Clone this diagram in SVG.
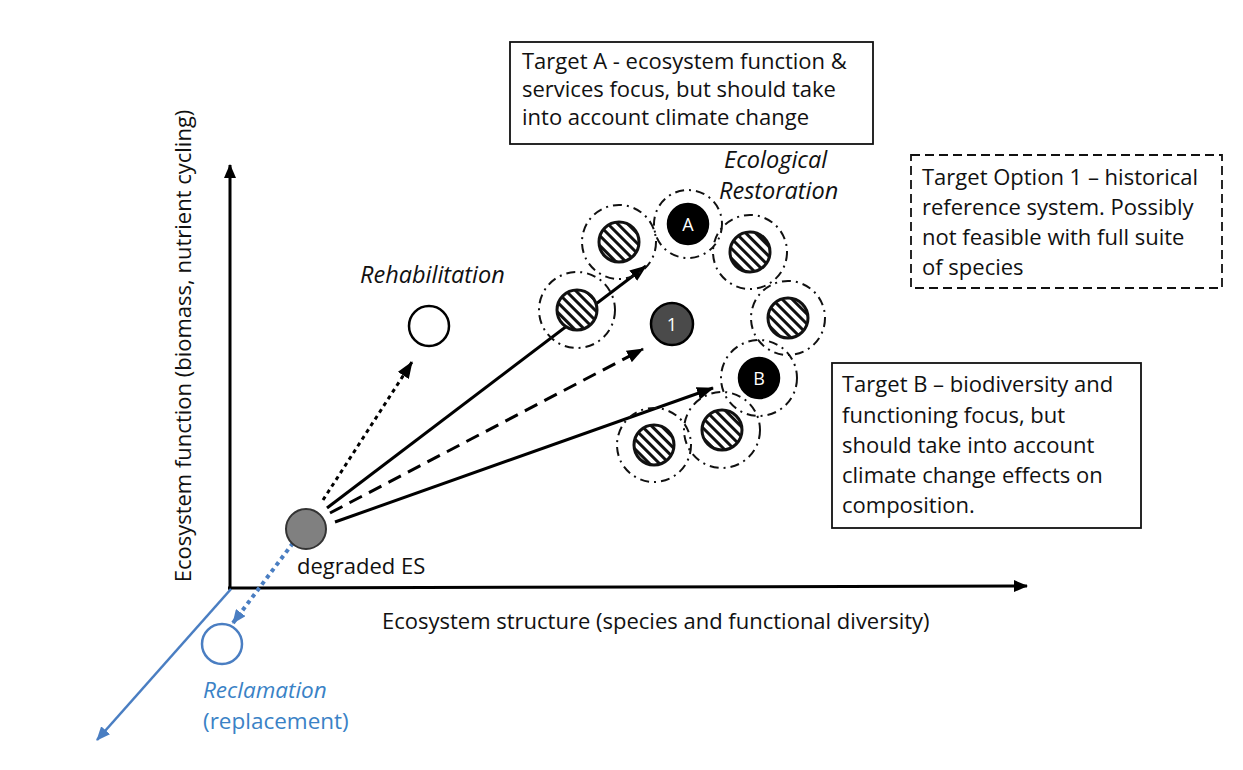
<svg xmlns="http://www.w3.org/2000/svg" width="1243" height="770" viewBox="0 0 1243 770">
<style>
  text { font-family: "Open Sans", "Noto Sans", sans-serif; font-size: 22px; fill: #111; }
  .it { font-style: italic; font-size: 23.5px; }
  .blue { fill: #3a82c6; font-size: 22.5px; }
  .box { fill: #fff; stroke: #111; stroke-width: 1.8; }
  .dbox { fill: #fff; stroke: #111; stroke-width: 1.8; stroke-dasharray: 9 5; }
  .ring { fill: none; stroke: #111; stroke-width: 2; stroke-dasharray: 9 5 2 5; }
  .hatch { fill: url(#stripes); stroke: #111; stroke-width: 3; }
  .solid { fill: #000; stroke: #000; stroke-width: 2.5; }
  .lbl { fill: #fff; font-size: 18px; text-anchor: middle; }
  .ln { fill: none; stroke: #000; stroke-width: 3; marker-end: url(#ah); }
  .axis { fill: none; stroke: #000; stroke-width: 3; marker-end: url(#ax); }
</style>
<defs>
  <pattern id="stripes" width="7" height="7" patternUnits="userSpaceOnUse" patternTransform="rotate(45)">
    <rect width="7" height="7" fill="#fff"/>
    <line x1="0" y1="1.5" x2="7" y2="1.5" stroke="#111" stroke-width="3"/>
  </pattern>
  <marker id="ah" markerUnits="userSpaceOnUse" markerWidth="17" markerHeight="13" viewBox="0 0 17 13" refX="16" refY="6.5" orient="auto">
    <path d="M0,0 L17,6.5 L0,13 z" fill="#000"/>
  </marker>
  <marker id="ax" markerUnits="userSpaceOnUse" markerWidth="14" markerHeight="12" viewBox="0 0 14 12" refX="13" refY="6" orient="auto">
    <path d="M0,0 L14,6 L0,12 z" fill="#000"/>
  </marker>
  <marker id="bh" markerUnits="userSpaceOnUse" markerWidth="14" markerHeight="12" viewBox="0 0 14 12" refX="13" refY="6" orient="auto">
    <path d="M0,0 L14,6 L0,12 z" fill="#4a7ec2"/>
  </marker>
</defs>

<g id="connectors">
  <path id="y-axis" class="axis" d="M230,590 L230,165"/>
  <path id="x-axis" class="axis" d="M228,588 L1027,586"/>
  <path id="reclaim-axis" d="M231,589 L97,740" fill="none" stroke="#4a7ec2" stroke-width="2.6" marker-end="url(#bh)"/>
  <path id="to-rehab" class="ln" d="M323,500 L412,362" stroke-dasharray="4 4" stroke-width="4"/>
  <path id="to-A" class="ln" d="M327,508 L646,266"/>
  <path id="to-1" class="ln" d="M330,513 L643,349" stroke-dasharray="14 8"/>
  <path id="to-B" class="ln" d="M335,522 L713,388"/>
  <path id="to-reclaim" d="M293,543 L233,623" fill="none" stroke="#4a7ec2" stroke-width="4" stroke-dasharray="4 4" marker-end="url(#bh)"/>
</g>

<g id="axis-labels">
  <text id="y-label" transform="translate(191,346) rotate(-90)" text-anchor="middle">Ecosystem function (biomass, nutrient cycling)</text>
  <text id="x-label" x="382" y="629">Ecosystem structure (species and functional diversity)</text>
</g>

<g id="degraded">
  <circle cx="306" cy="529" r="20" fill="#808080" stroke="#333" stroke-width="2"/>
  <text x="297" y="574">degraded ES</text>
</g>

<g id="rehabilitation">
  <circle cx="429" cy="326" r="20" fill="#fff" stroke="#000" stroke-width="2.5"/>
  <text class="it" x="360" y="283">Rehabilitation</text>
</g>

<g id="reclamation">
  <circle cx="222" cy="644" r="20" fill="none" stroke="#4a7ec2" stroke-width="2.5"/>
  <text class="it blue" x="203" y="698">Reclamation</text>
  <text class="blue" x="203" y="729">(replacement)</text>
</g>

<g id="ecological-restoration">
  <text class="it" x="724" y="168">Ecological</text>
  <text class="it" x="719" y="199">Restoration</text>
</g>

<g id="cluster">
  <g id="node-A">
    <circle class="ring" cx="688" cy="224" r="34"/>
    <circle class="solid" cx="688" cy="224" r="20"/>
    <text class="lbl" x="688" y="231">A</text>
  </g>
  <g id="node-h1">
    <circle class="ring" cx="619" cy="242" r="37"/>
    <circle class="hatch" cx="619" cy="242" r="20"/>
  </g>
  <g id="node-h2">
    <circle class="ring" cx="750" cy="252" r="37"/>
    <circle class="hatch" cx="750" cy="252" r="20"/>
  </g>
  <g id="node-h3">
    <circle class="ring" cx="577" cy="310" r="38"/>
    <circle class="hatch" cx="577" cy="310" r="20"/>
  </g>
  <g id="node-1">
    <circle cx="672" cy="324" r="21" fill="#4a4a4a" stroke="#000" stroke-width="2.5"/>
    <text class="lbl" x="672" y="331">1</text>
  </g>
  <g id="node-h4">
    <circle class="ring" cx="788" cy="318" r="37"/>
    <circle class="hatch" cx="788" cy="318" r="20"/>
  </g>
  <g id="node-B">
    <circle class="ring" cx="759" cy="378" r="38"/>
    <circle class="solid" cx="759" cy="378" r="20"/>
    <text class="lbl" x="759" y="385">B</text>
  </g>
  <g id="node-h5">
    <circle class="ring" cx="722" cy="430" r="38"/>
    <circle class="hatch" cx="722" cy="430" r="20"/>
  </g>
  <g id="node-h6">
    <circle class="ring" cx="654" cy="445" r="37"/>
    <circle class="hatch" cx="654" cy="445" r="20"/>
  </g>
</g>

<g id="target-A">
  <rect class="box" x="510" y="42" width="363" height="102"/>
  <text x="522" y="69">Target A - ecosystem function &amp;</text>
  <text x="522" y="97">services focus, but should take</text>
  <text x="522" y="125">into account climate change</text>
</g>

<g id="target-option-1">
  <rect class="dbox" x="911" y="155" width="311" height="133"/>
  <text x="922" y="185">Target Option 1 – historical</text>
  <text x="922" y="215">reference system. Possibly</text>
  <text x="922" y="245">not feasible with full suite</text>
  <text x="922" y="275">of species</text>
</g>

<g id="target-B">
  <rect class="box" x="832" y="363" width="309" height="165"/>
  <text x="842" y="392">Target B – biodiversity and</text>
  <text x="842" y="423">functioning focus, but</text>
  <text x="842" y="453">should take into account</text>
  <text x="842" y="483">climate change effects on</text>
  <text x="842" y="513">composition.</text>
</g>
</svg>
